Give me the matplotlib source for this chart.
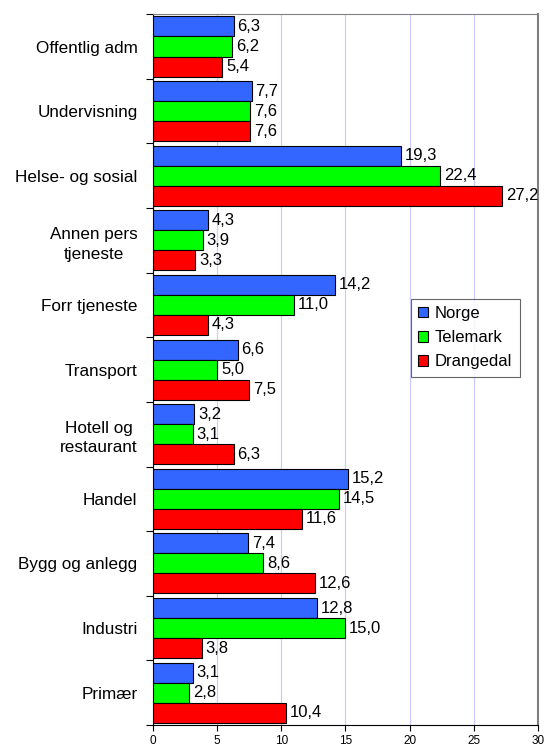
import matplotlib
matplotlib.use("Agg")
import matplotlib.pyplot as plt
import numpy as np

plt.rcParams['font.family'] = ['Liberation Sans', 'DejaVu Sans']

categories = ["Offentlig adm", "Undervisning", "Helse- og sosial", "Annen pers\ntjeneste",
              "Forr tjeneste", "Transport", "Hotell og\nrestaurant", "Handel",
              "Bygg og anlegg", "Industri", "Primær"]
norge = [6.3, 7.7, 19.3, 4.3, 14.2, 6.6, 3.2, 15.2, 7.4, 12.8, 3.1]
telemark = [6.2, 7.6, 22.4, 3.9, 11.0, 5.0, 3.1, 14.5, 8.6, 15.0, 2.8]
drangedal = [5.4, 7.6, 27.2, 3.3, 4.3, 7.5, 6.3, 11.6, 12.6, 3.8, 10.4]

series = [("Norge", norge, "#3366FF"), ("Telemark", telemark, "#00FF00"),
          ("Drangedal", drangedal, "#FF0000")]

fig = plt.figure(figsize=(5.5, 7.47), dpi=100)
ax = fig.add_axes([0.278, 0.0295, 0.70, 0.9515])

y = np.arange(len(categories))
h = 0.31
for k, (name, vals, col) in enumerate(series):
    pos = y + (k - 1) * h
    ax.barh(pos, vals, height=h, color=col, edgecolor="black", linewidth=0.8,
            label=name, zorder=3)
    for p, v in zip(pos, vals):
        ax.text(v + 0.3, p, f"{v:.1f}".replace(".", ","), va="center", ha="left",
                fontsize=12, zorder=4)

ax.set_xlim(0, 30)
ax.set_ylim(len(categories) - 0.5, -0.5)
ax.set_xticks(range(0, 31, 5))
ax.tick_params(axis="x", labelsize=8.5, direction="out", length=4, width=0.8)

# category separators on the y axis, labels centered on groups
ax.set_yticks(np.arange(-0.5, len(categories), 1))
ax.set_yticklabels([])
ax.set_yticks(y, minor=True)
ax.set_yticklabels(categories, minor=True, fontsize=12.3, ha="right",
                   multialignment="center")
for lbl in ax.get_yticklabels(minor=True):
    lbl.set_linespacing(1.4)
ax.tick_params(axis="y", which="minor", length=0, pad=11)
ax.tick_params(axis="y", which="major", length=5, width=0.8, direction="out")

ax.grid(axis="x", color="#CCCCFF", linewidth=0.9, zorder=0)
ax.spines["left"].set_color("black")
ax.spines["bottom"].set_color("black")
ax.spines["top"].set_color("#808080")
ax.spines["right"].set_color("#808080")
ax.spines["right"].set_linewidth(1.5)

leg = ax.legend(loc="upper left", bbox_to_anchor=(0.67, 0.6), fontsize=12,
                frameon=True, fancybox=False, edgecolor="#404040",
                handlelength=0.6, handleheight=0.6, handletextpad=0.4,
                labelspacing=0.55, borderpad=0.45, borderaxespad=0)
leg.get_frame().set_linewidth(0.8)

fig.savefig("out.png", dpi=100)
